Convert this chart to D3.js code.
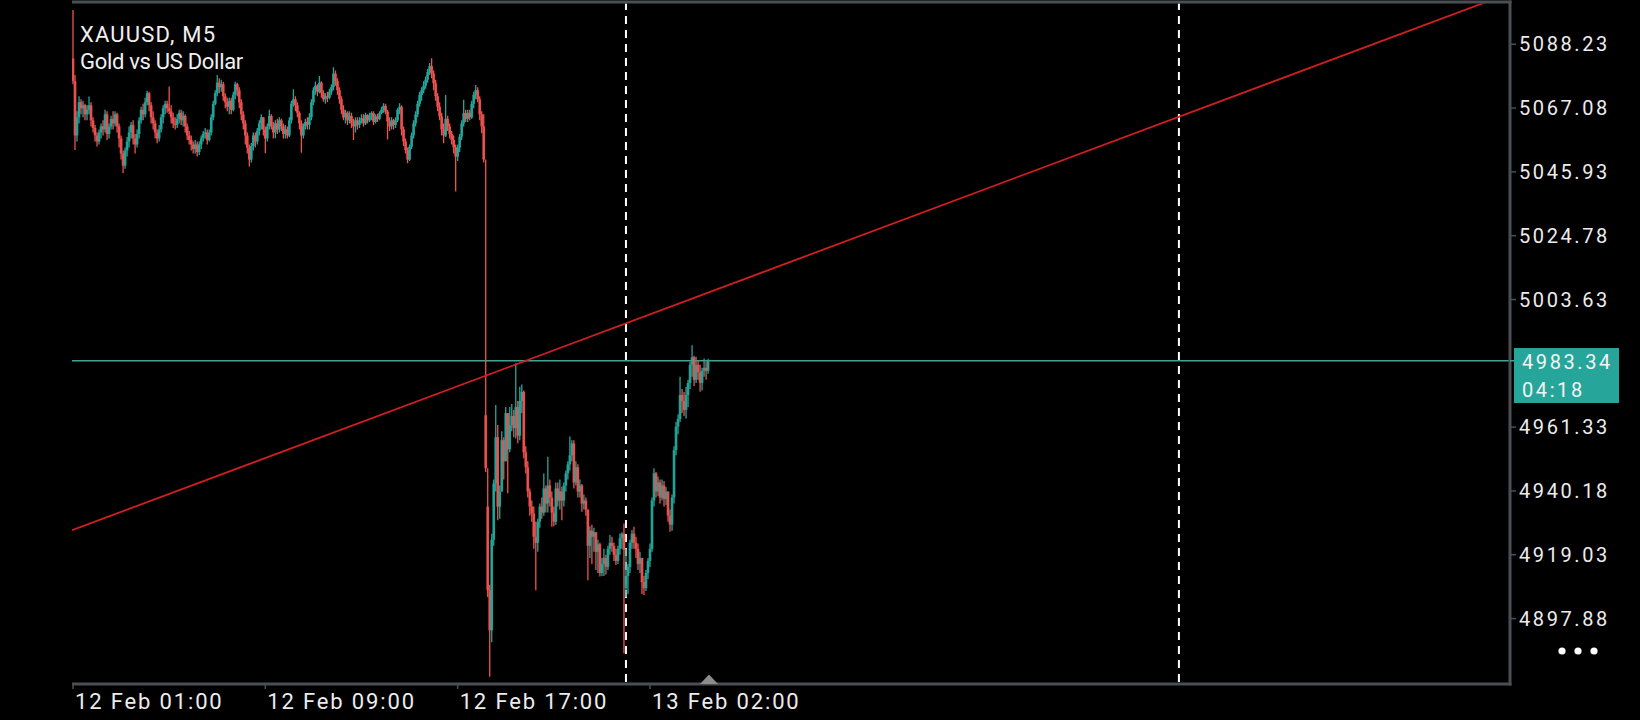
<!DOCTYPE html>
<html><head><meta charset="utf-8">
<script src="https://cdn.jsdelivr.net/npm/d3@7"></script>
<style>
html,body{margin:0;padding:0;background:#000;overflow:hidden}
svg{display:block}
</style></head><body>
<svg id="chart" width="1640" height="720"></svg>
<script>
// ---------------- data ----------------
const symbolTitle = "XAUUSD, M5";
const symbolName = "Gold vs US Dollar";

const close = [
5076,5058,5064,5069,5067,5068,5065,5066.5,5068,5063,
5060.5,5058,5056,5059,5061,5060,5065,5058.5,5061,5063.5,
5062,5065,5061,5057,5052,5048,5053,5056,5059,5061.5,
5057,5055,5058.5,5063,5066.5,5065,5069,5072,5068,5064,
5062,5059,5057,5060,5064,5067,5068.5,5067,5066,5064,
5062,5061.5,5063.5,5065.5,5063,5064.5,5061,5058,5056.5,5055,
5053.5,5055,5052.5,5055,5057,5058.5,5059,5056.5,5059,5064,
5068.5,5072,5075.5,5074,5075,5071,5069,5067.5,5069.5,5066.5,
5071.5,5075,5073,5069,5065,5062,5058,5054,5050,5054.5,
5058,5056,5059.5,5062,5064,5060,5057,5061,5064.5,5061,
5059,5062,5060,5063,5061,5058.5,5060,5058,5063,5068.5,
5070,5068,5065.5,5062,5058,5061,5062.5,5061.5,5064,5069,
5073,5074.5,5072.5,5075.5,5072,5070,5071,5070.5,5072.5,5074,
5078.5,5076,5073,5070,5066.5,5064,5065.5,5063,5064.5,5062,
5061,5063,5061.5,5063,5063.7,5062,5064.8,5063,5064.5,5065.4,
5062.5,5064.3,5063.5,5065.4,5066.5,5067.8,5065.9,5062.6,5061,5063,
5061.5,5063,5066.5,5067.5,5060,5056,5053.2,5050,5054.3,5058,
5062,5065,5068.5,5071.4,5073,5074.5,5076.5,5079,5081,5078.5,
5075.3,5071,5067.5,5064.3,5060,5058,5063.5,5061,5058.5,5056.5,
5054,5051,5054,5057.6,5062,5065.4,5063.5,5065.5,5064,5068.5,
5071.5,5073,5070,5065,5061,5050,4947.7,4907.3,4894,4924,
4942.7,4958,4935,4940,4957,4950,4966,4954,4962,4965,
4961,4968,4958.5,4970,4973,4953,4948,4940,4935,4932.7,
4925,4923,4930,4935,4933,4941,4936,4942,4938,4933,
4930,4941,4937,4940,4937,4942,4946,4949,4952,4955.9,
4943,4948,4940,4942,4936,4937,4934,4922,4927,4925,
4926.5,4920,4922.5,4913,4916,4918,4915,4921,4923,4922,
4919,4917,4921,4924.5,4926,4920.6,4912,4915,4923,4926,
4923,4921,4916,4918,4910,4908,4913,4917,4921,4937,
4946,4940,4943,4938,4942,4937.5,4940,4932,4929,4938,
4953.7,4961.5,4964,4972,4970,4967,4972,4976,4982,4984.5,
4977,4982,4979.5,4976,4980,4981,4980,4983.34
];

const high = [
5099.6,5078,5066,5071,5070,5069.5,5068.5,5068,5070.9,5069,
5064,5061.5,5059,5060,5062,5063,5066.5,5066,5062,5064.5,
5066,5066,5065.5,5062,5058,5053,5054,5057.5,5061,5062.5,
5063,5058.5,5060,5064,5067.5,5068.5,5070.5,5072.8,5072.5,5069,
5066,5063,5060,5061.5,5065,5068,5069.5,5069.5,5074.2,5068,
5065.5,5064,5065,5066.5,5066.5,5066,5065,5062,5059.5,5058,
5056,5056.5,5056,5056,5058,5059.5,5060.5,5060,5060,5065,
5069.5,5073,5078,5077,5076.5,5075.8,5072,5070.5,5070.5,5070.5,
5072.5,5075.8,5075.5,5074,5070,5066,5063,5059,5055,5055.5,
5059,5059,5060.5,5063,5065,5063,5061,5062,5066.5,5065,
5062.5,5063,5063.5,5064,5063.5,5062,5061.5,5061,5064,5069.5,
5073.3,5071,5069,5066,5063,5062,5063.5,5064,5065.4,5070,
5074,5075.9,5075,5077.7,5076,5073,5072,5072.5,5073.5,5075,
5080.6,5079.5,5077,5074,5071,5068,5066.5,5066,5066,5065.5,
5063.5,5064,5064,5064,5065,5065,5065.5,5065,5065.5,5066,
5066,5065,5065.2,5066,5067.5,5068.7,5068.5,5066.5,5064,5064,
5063.5,5064,5067,5068.7,5068,5061,5057,5054,5055,5059,
5063,5066,5069.5,5072.5,5074,5076,5077.5,5080,5082,5083.6,
5079.5,5076.5,5072,5069,5065.5,5062,5071.4,5064.5,5062,5059.5,
5058,5055,5055,5058.5,5063,5069.8,5066.5,5066.5,5066.5,5069.5,
5072.5,5074.7,5074,5071,5066,5065,5050,4947.7,4909,4926,
4944,4968.7,4962,4942,4960,4958,4968,4964,4968,4969,
4967,4982.5,4970,4974.7,4975.5,4973.5,4955,4950,4941,4937,
4935,4930,4931,4936,4938,4946,4942,4951.5,4944,4940,
4935,4943,4943,4944,4941.6,4943,4947,4950,4958.2,4957,
4957,4950,4949,4944,4942.5,4939,4938,4934,4928.5,4929,
4928,4925,4924,4923,4918,4921,4919,4922,4925.6,4925,
4923,4921,4922,4926.1,4926.5,4929.4,4921,4916,4924,4927.2,
4928.3,4925,4922.8,4920,4918,4912,4914,4918,4922.8,4938,
4947.7,4946.5,4945,4944,4944,4943.5,4941.5,4940,4934,4939,
4955,4963,4965.5,4978,4974,4973,4974.7,4977,4983,4988.5,
4985,4984.7,4983.5,4982,4981,4984.1,4983,4984
];

const low = [
5075,5053.2,5056,5062,5065,5064,5063,5063,5065,5061,
5059,5056,5054.3,5055,5057,5058,5059,5056.5,5057,5060,
5060,5061,5059,5054,5050,5045.5,5047,5051,5054,5057,
5055,5052,5054,5057,5062,5063,5064,5068,5066,5062,
5060,5057,5055.4,5056,5059,5062,5065,5065.5,5065,5062,
5060.5,5060,5060.5,5062,5061.5,5061,5059,5056.5,5055,5053,
5052,5052,5051,5051.5,5053.5,5056,5057,5055,5056,5058,
5063,5068,5071,5072,5072.5,5069.5,5067,5066,5065,5065,
5066,5070,5071,5067,5063,5060,5055,5052,5047.7,5049,
5053,5054,5055,5058,5060,5058,5052.1,5056,5060,5060,
5057,5057.1,5058.5,5059,5059.5,5057,5057,5057,5057.5,5062,
5067.5,5066,5064,5060,5052.3,5057,5060,5060,5060,5063,
5068,5071.5,5071,5072,5070.5,5069.2,5068.5,5069,5070,5071.5,
5073,5074.5,5071.5,5068.5,5065,5063,5062,5061.5,5062,5060.5,
5056.5,5059,5060,5060.5,5062,5061,5061.5,5062,5062.5,5063,
5061.5,5062,5062.5,5063,5065,5065.5,5065,5056.7,5059.5,5060,
5060,5060.5,5062.5,5065,5058,5054.5,5052,5048.8,5049.5,5053.5,
5057,5061,5064,5067.5,5069.5,5072,5073.5,5075.5,5078,5077,
5073,5069.5,5066,5063,5058,5055.4,5057.5,5059.5,5057,5055,
5052,5039.4,5049.5,5052.5,5056.5,5061,5062.5,5062.5,5063,5063.5,
5067,5070,5069,5063,5058.7,5049,4946.5,4905,4878.6,4890,
4922,4940,4930.5,4931,4940,4944,4950,4939.4,4953,4960,
4958,4957.6,4956,4957,4966,4951,4946,4938,4932,4930,
4921,4907.3,4920,4928,4931,4932,4933,4933,4935,4928.3,
4928.5,4929,4935,4934,4930.5,4935,4940,4944,4947,4950,
4941,4942,4938,4938,4933.3,4934,4932,4910.6,4918,4916,
4920,4914,4913,4911.8,4912,4912,4912.5,4914,4919,4920,
4917,4915.6,4916,4919,4921,4886.3,4905,4906,4913,4921,
4921,4918,4914,4913,4906,4905.7,4907,4911,4915,4920,
4935,4938,4938.5,4936,4937,4935,4935.5,4930,4926.7,4927,
4936,4952,4959,4963,4966,4965,4964.2,4968,4974,4978,
4975,4976,4977,4973.1,4973.5,4978,4977,4979
];

// bars whose open is not the previous close: [bar, open]
const openGaps = [[0, 5083.5], [206, 4965.3], [207, 4935], [276, 4908]];

const priceTickLabels = ["5088.23","5067.08","5045.93","5024.78","5003.63","4961.33","4940.18","4919.03","4897.88"];
const timeTickBars = [0, 96, 192, 288];
const timeTickLabels = ["12 Feb 01:00","12 Feb 09:00","12 Feb 17:00","13 Feb 02:00"];
const daySeparatorBars = [276, 552];
const trendBars = [0, 552];
const trendPrices = [4927.3, 5064.2];
const bidPrice = 4983.34;
const bidLabel = "4983.34";
const countdown = "04:18";

// ---------------- layout ----------------
const W = 1640, H = 720;
const L = 72, R = 1510, T = 2, B = 684;
const frameColor = "#4a4e55";
const upColor = "#26a69a", downColor = "#ef5350";
const textColor = "#ececec";

const svg = d3.select("#chart");
svg.append("rect").attr("width", W).attr("height", H).attr("fill", "#000");

const y = d3.scaleLinear().domain([4876.2, 5101.9]).range([684, 3]);
const x = d3.scaleLinear().domain([0, 288]).range([73, 650]);

const open = close.map((c, i) => i === 0 ? close[0] : close[i - 1]);
openGaps.forEach(([b, o]) => { open[b] = o; });
const bars = close.map((c, i) => {
  const o = open[i];
  return { i, o, c, h: Math.max(high[i], o, c), l: Math.min(low[i], o, c) };
});

svg.append("defs").append("clipPath").attr("id", "plotClip")
  .append("rect").attr("x", L).attr("y", T + 1.5).attr("width", R - L).attr("height", B - T - 1.5);

const plot = svg.append("g").attr("clip-path", "url(#plotClip)");

// bid price line
plot.append("line")
  .attr("x1", L).attr("x2", R).attr("y1", y(bidPrice)).attr("y2", y(bidPrice))
  .attr("stroke", "#45a096").attr("stroke-width", 1.5);

// day separators
plot.selectAll("line.sep").data(daySeparatorBars).join("line")
  .attr("class", "sep")
  .attr("x1", d => x(d)).attr("x2", d => x(d))
  .attr("y1", T).attr("y2", B)
  .attr("stroke", "#ffffff").attr("stroke-width", 2)
  .attr("stroke-dasharray", "8 6");

// candles
const cg = plot.append("g");
cg.selectAll("line.wick").data(bars).join("line")
  .attr("class", "wick")
  .attr("x1", d => x(d.i)).attr("x2", d => x(d.i))
  .attr("y1", d => y(d.h)).attr("y2", d => y(d.l))
  .attr("stroke", d => d.c >= d.o ? upColor : downColor).attr("stroke-width", 1.3);
cg.selectAll("rect.body").data(bars).join("rect")
  .attr("class", "body")
  .attr("x", d => x(d.i) - 1.35).attr("width", 2.7)
  .attr("y", d => y(Math.max(d.o, d.c)))
  .attr("height", d => Math.max(1, Math.abs(y(d.o) - y(d.c))))
  .attr("fill", d => d.c >= d.o ? upColor : downColor)
  .attr("fill-opacity", 0.92);

// trendline
const slope = (trendPrices[1] - trendPrices[0]) / (trendBars[1] - trendBars[0]);
const bAt = px => x.invert(px);
const pAt = b => trendPrices[0] + (b - trendBars[0]) * slope;
plot.append("line")
  .attr("x1", L).attr("y1", y(pAt(bAt(L))))
  .attr("x2", R).attr("y2", y(pAt(bAt(R))))
  .attr("stroke", "#d11f1f").attr("stroke-width", 1.8);

// frame
svg.append("line").attr("x1", L).attr("x2", R + 1.5).attr("y1", T).attr("y2", T)
  .attr("stroke", frameColor).attr("stroke-width", 3);
svg.append("line").attr("x1", R).attr("x2", R).attr("y1", T - 1.5).attr("y2", B + 1.5)
  .attr("stroke", frameColor).attr("stroke-width", 3);
svg.append("line").attr("x1", L).attr("x2", R + 1.5).attr("y1", B).attr("y2", B)
  .attr("stroke", frameColor).attr("stroke-width", 3);

// price axis
const pa = svg.append("g");
pa.selectAll("line").data(priceTickLabels).join("line")
  .attr("x1", R).attr("x2", R + 6).attr("y1", d => y(+d)).attr("y2", d => y(+d))
  .attr("stroke", frameColor).attr("stroke-width", 1.5);
pa.selectAll("text").data(priceTickLabels).join("text")
  .attr("x", 1519).attr("y", d => y(+d) + 7.2)
  .attr("fill", textColor)
  .style("font-family", "Roboto").style("font-size", "20px").style("letter-spacing", "2.6px")
  .text(d => d);

// bid tag
const by = y(bidPrice);
svg.append("line").attr("x1", R).attr("x2", R + 6).attr("y1", by).attr("y2", by)
  .attr("stroke", "#45a096").attr("stroke-width", 1.5);
svg.append("rect").attr("x", 1514).attr("y", by - 12.7).attr("width", 105).attr("height", 55)
  .attr("fill", upColor);
svg.append("text").attr("x", 1522).attr("y", by + 8.3).attr("fill", "#f4f4f4")
  .style("font-family", "Roboto").style("font-size", "20px").style("letter-spacing", "2.6px")
  .text(bidLabel);
svg.append("text").attr("x", 1522).attr("y", by + 36).attr("fill", "#f4f4f4")
  .style("font-family", "Roboto").style("font-size", "20px").style("letter-spacing", "2.6px")
  .text(countdown);

// time axis
const ta = svg.append("g");
ta.selectAll("line").data(timeTickBars).join("line")
  .attr("x1", d => x(d)).attr("x2", d => x(d)).attr("y1", B).attr("y2", B + 5)
  .attr("stroke", frameColor).attr("stroke-width", 1.5);
ta.selectAll("text").data(timeTickBars).join("text")
  .attr("x", d => x(d) + 2).attr("y", 709)
  .attr("fill", textColor)
  .style("font-family", "Roboto").style("font-size", "22px").style("letter-spacing", "1.85px")
  .text((d, k) => timeTickLabels[k]);

// last-bar marker triangle
const lx = Math.round(x(close.length - 1)) + 1;
svg.append("path")
  .attr("d", `M${lx - 9},${B} L${lx},${B - 9.5} L${lx + 9},${B} Z`)
  .attr("fill", "#8c8c8c");

// menu dots
svg.selectAll("circle.dot").data([1562, 1578, 1594]).join("circle")
  .attr("class", "dot").attr("cx", d => d).attr("cy", 651).attr("r", 3.6).attr("fill", "#ffffff");

// title
svg.append("text").attr("x", 80).attr("y", 42.3).attr("fill", "#f0f0f0")
  .style("font-family", "Roboto").style("font-size", "22px").style("letter-spacing", "1.2px")
  .text(symbolTitle);
svg.append("text").attr("x", 80).attr("y", 69.3).attr("fill", "#f0f0f0")
  .style("font-family", "Roboto").style("font-size", "22px").style("letter-spacing", "-0.3px")
  .text(symbolName);
</script>
</body></html>
